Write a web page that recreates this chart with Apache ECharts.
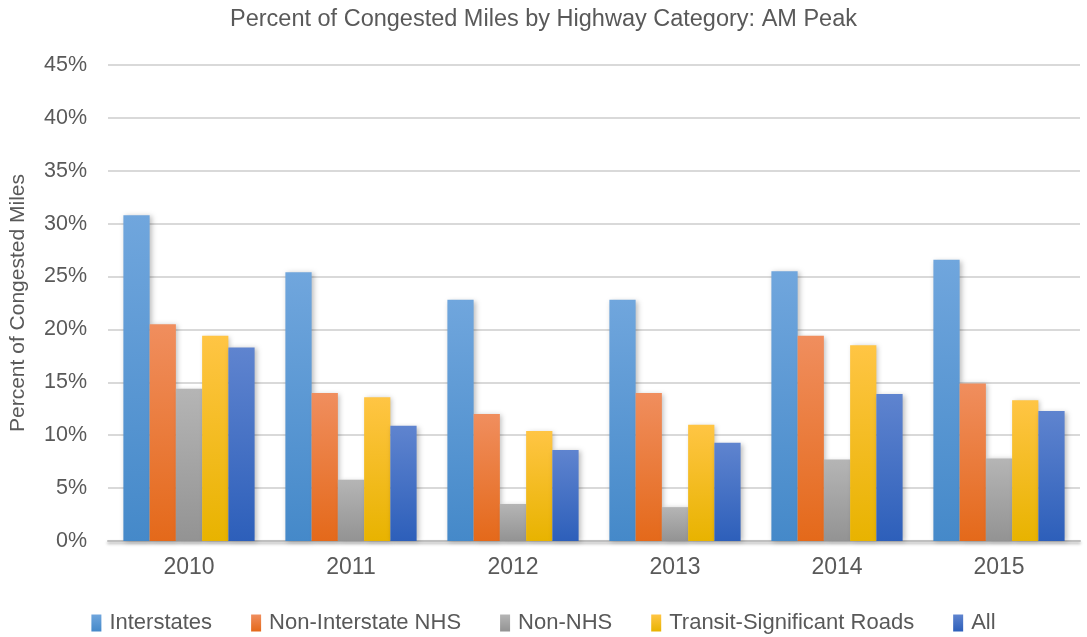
<!DOCTYPE html>
<html>
<head>
<meta charset="utf-8">
<script src="https://cdn.jsdelivr.net/npm/echarts@6/dist/echarts.min.js"></script>
<style>
html,body{margin:0;padding:0;background:#fff;}
#chart{width:1087px;height:637px;}
</style>
</head>
<body>
<div id="chart"></div>
<script>
var years = ['2010','2011','2012','2013','2014','2015'];
var interstates = [30.8, 25.4, 22.8, 22.8, 25.5, 26.6];
var nonInterstateNhs = [20.5, 14.0, 12.0, 14.0, 19.4, 14.9];
var nonNhs = [14.4, 5.8, 3.5, 3.2, 7.7, 7.8];
var transitRoads = [19.4, 13.6, 10.4, 11.0, 18.5, 13.3];
var allRoads = [18.3, 10.9, 8.6, 9.3, 13.9, 12.3];

var font = '"Liberation Sans", Arial, sans-serif';

function grad(top, bottom){
	return new echarts.graphic.LinearGradient(0, 0, 0, 1, [
		{offset:0, color:top},
		{offset:1, color:bottom}
	]);
}

function bar(name, data, top, bottom){
	return {
		name:name,
		type:'bar',
		data:data,
		barGap:'0%',
		barCategoryGap:'19%',
		itemStyle:{
			color:grad(top, bottom),
			shadowColor:'rgba(0,0,0,0.25)',
			shadowBlur:5,
			shadowOffsetX:2,
			shadowOffsetY:1
		}
	};
}

var ele = echarts.init(document.getElementById('chart'));
var option = {
	animation:false,
	title:{
		text:'Percent of Congested Miles by Highway Category: AM Peak',
		left:'center',
		top:3,
		textStyle:{
			fontFamily:font,
			fontSize:23.5,
			fontWeight:'normal',
			color:'#595959'
		}
	},
	legend:{
		bottom:-2,
		left:'center',
		itemWidth:10,
		itemHeight:17,
		itemGap:39,
		icon:'rect',
		textStyle:{
			fontFamily:font,
			fontSize:22,
			color:'#595959',
			padding:[0,0,0,3]
		}
	},
	grid:{
		left:107,
		right:7,
		top:65,
		bottom:96
	},
	xAxis:{
		type:'category',
		data:years,
		axisLine:{
			lineStyle:{color:'#bfbfbf', width:2, shadowColor:'rgba(0,0,0,0.3)', shadowBlur:3, shadowOffsetY:2}
		},
		axisTick:{show:false},
		axisLabel:{
			fontFamily:font,
			fontSize:23,
			color:'#595959',
			margin:15
		}
	},
	yAxis:{
		type:'value',
		min:0,
		max:45,
		interval:5,
		name:'Percent of Congested Miles',
		nameLocation:'middle',
		nameGap:79,
		nameTextStyle:{
			fontFamily:font,
			fontSize:21,
			color:'#595959'
		},
		axisLine:{show:false},
		axisTick:{show:false},
		axisLabel:{
			formatter:'{value}%',
			fontFamily:font,
			fontSize:21.5,
			color:'#595959',
			margin:21
		},
		splitLine:{
			lineStyle:{color:'#d9d9d9', width:2}
		}
	},
	series:[
		bar('Interstates', interstates, '#70a6dd', '#4589c9'),
		bar('Non-Interstate NHS', nonInterstateNhs, '#f08e5e', '#e4691a'),
		bar('Non-NHS', nonNhs, '#b5b5b5', '#939393'),
		bar('Transit-Significant Roads', transitRoads, '#ffc544', '#e8b300'),
		bar('All', allRoads, '#5f84cf', '#2d5fba')
	]
};
ele.setOption(option);
</script>
</body>
</html>
